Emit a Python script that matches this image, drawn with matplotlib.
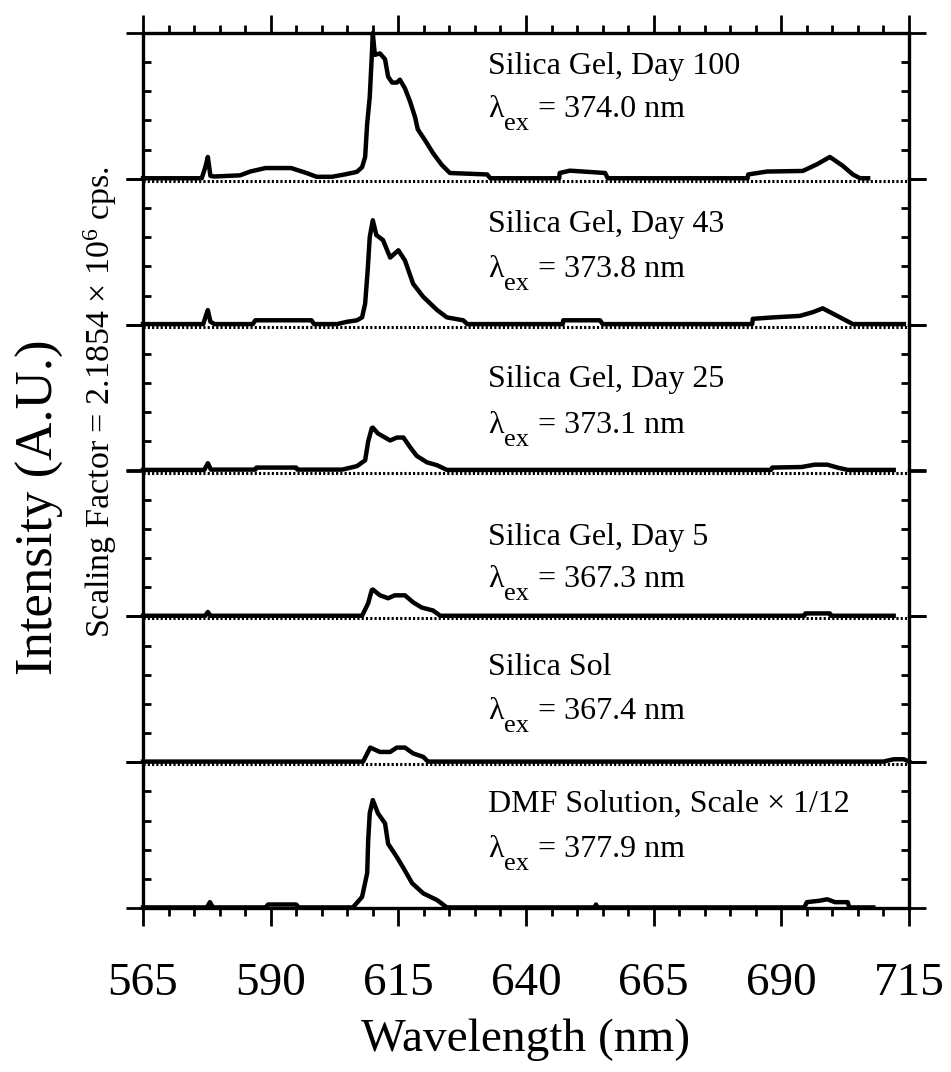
import matplotlib
matplotlib.use('Agg')
import matplotlib.pyplot as plt
from matplotlib.ticker import FixedLocator
from matplotlib.transforms import offset_copy

plt.rcParams['font.family'] = ['Liberation Serif', 'DejaVu Serif']
plt.rcParams['mathtext.fontset'] = 'custom'
plt.rcParams['mathtext.rm'] = 'Liberation Serif'
plt.rcParams['mathtext.it'] = 'Liberation Serif:italic'

# spectra (wavelength nm, intensity in panel units 0..5)
wl_d100 = [565, 576.5, 577.2, 577.7, 578.2, 579, 584, 586, 589, 594, 597, 599, 602, 604.5,
           606.9, 607.9, 608.5, 608.9, 609.4, 609.8, 610.0, 610.4, 611.4, 612.4, 613.0, 613.8,
           614.7, 615.3, 616.3, 617.3, 618.3, 618.8, 620.2, 621.8, 623.5, 625.1, 632.4, 633,
           646.5, 646.6, 648.6, 655.5, 656, 683.4, 683.5, 687.2, 694.2, 697, 699.5, 702, 704,
           705.4, 707]
i_d100 = [0.02, 0.02, 0.4, 0.75, 0.1, 0.08, 0.12, 0.25, 0.37, 0.37, 0.2, 0.07, 0.07, 0.15,
          0.24, 0.4, 0.75, 1.9, 2.8, 4.2, 5.0, 4.25, 4.3, 4.1, 3.5, 3.3,
          3.3, 3.4, 3.1, 2.65, 2.1, 1.7, 1.33, 0.88, 0.48, 0.2, 0.15, 0.02,
          0.02, 0.2, 0.28, 0.2, 0.02, 0.02, 0.15, 0.25, 0.27, 0.5, 0.75, 0.45, 0.15,
          0.02, 0.02]

wl_d43 = [565, 576.8, 577.3, 577.7, 578.2, 579, 586.5, 587, 598, 598.5, 603, 605, 606.9,
          607.9, 608.5, 609.0, 609.4, 610.0, 610.7, 612.0, 613.4, 615.0, 616.3, 617.9, 619.9,
          622.6, 624.5, 627.7, 628.5, 647.2, 647.3, 654.5, 655, 684.3, 684.4, 688.4, 693.6,
          696.2, 698.1, 701.5, 704, 714]
i_d43 = [0.02, 0.02, 0.3, 0.5, 0.1, 0.02, 0.02, 0.15, 0.15, 0.02, 0.02, 0.1, 0.15,
         0.25, 0.72, 1.87, 3.0, 3.58, 3.07, 2.9, 2.3, 2.55, 2.2, 1.4, 0.95,
         0.5, 0.25, 0.15, 0.02, 0.02, 0.15, 0.15, 0.02, 0.02, 0.2, 0.25, 0.3,
         0.43, 0.56, 0.25, 0.02, 0.02]

wl_d25 = [565, 577.0, 577.7, 578.3, 587, 587.2, 595, 595.2, 604, 606.9, 608.5, 609.1, 609.8,
          610.0, 611.0, 612.4, 613.4, 614.7, 616.0, 617.3, 618.6, 620.6, 622.6, 624.5, 688,
          688.2, 694, 696.5, 699, 701, 703, 712]
i_d25 = [0.02, 0.02, 0.25, 0.03, 0.03, 0.1, 0.1, 0.03, 0.03, 0.15, 0.35, 1.0, 1.45,
         1.47, 1.27, 1.13, 1.03, 1.13, 1.13, 0.8, 0.5, 0.28, 0.18, 0.02, 0.02,
         0.1, 0.12, 0.2, 0.2, 0.1, 0.02, 0.02]

wl_d5 = [565, 577.2, 577.7, 578.2, 607.9, 609.1, 609.8, 610.0, 611.4, 613.0, 614.3, 616.3,
         617.9, 619.6, 621.8, 623.2, 694.5, 694.7, 699.5, 699.7, 712]
i_d5 = [0.02, 0.02, 0.15, 0.02, 0.02, 0.45, 0.9, 0.92, 0.72, 0.62, 0.72, 0.72,
        0.48, 0.3, 0.2, 0.02, 0.02, 0.1, 0.1, 0.02, 0.02]

wl_sol = [565, 608.1, 609.5, 611.4, 613.4, 614.7, 616.3, 617.9, 619.9, 620.8, 710, 712, 714, 715]
i_sol = [0.02, 0.02, 0.5, 0.35, 0.35, 0.5, 0.5, 0.3, 0.18, 0.02, 0.02, 0.1, 0.1, 0.02]

wl_dmf = [565, 577.5, 578.1, 578.7, 589, 589.5, 595, 595.5, 606.1, 607.9, 608.9, 609.1,
          609.4, 610.0, 611.0, 612.4, 613.0, 614.7, 616.0, 617.7, 619.9, 622.6, 624.5, 653.4,
          653.7, 654, 694.5, 695, 697.5, 699, 700.5, 703, 703.3, 708]
i_dmf = [0.02, 0.02, 0.2, 0.02, 0.02, 0.12, 0.12, 0.02, 0.02, 0.38, 1.2, 2.33,
         3.25, 3.7, 3.25, 2.9, 2.2, 1.75, 1.37, 0.85, 0.5, 0.27, 0.02, 0.02,
         0.12, 0.02, 0.02, 0.2, 0.25, 0.3, 0.2, 0.2, 0.02, 0.02]

samples = ['Silica Gel, Day 100', 'Silica Gel, Day 43', 'Silica Gel, Day 25',
           'Silica Gel, Day 5', 'Silica Sol', 'DMF Solution, Scale \u00d7 1/12']
lambda_ex = ['374.0', '373.8', '373.1', '367.3', '367.4', '377.9']
x_ticks = [565, 590, 615, 640, 665, 690, 715]

spectra = [(wl_d100, i_d100), (wl_d43, i_d43), (wl_d25, i_d25),
           (wl_d5, i_d5), (wl_sol, i_sol), (wl_dmf, i_dmf)]
text_y = [(3.6, 2.12), (3.18, 1.63), (2.85, 1.3), (2.45, 1.0), (2.98, 1.47), (3.29, 1.75)]

fig, axes = plt.subplots(6, 1, sharex=True, figsize=(9.51, 10.72), dpi=100)
fig.subplots_adjust(left=143/951, right=909/951, top=1-33/1072, bottom=1-908/1072, hspace=0)

for i, ax in enumerate(axes):
    ax.patch.set_visible(False)
    wl, inten = spectra[i]
    if i < 5:
        # dotted zero line, sitting just under the trace
        ax.plot([0, 1], [0, 0], color='black', lw=2.2, ls=(0, (0.7, 0.7)), zorder=1,
                clip_on=False,
                transform=offset_copy(ax.get_yaxis_transform(), fig=fig, y=-2.0, units='dots'))
    ax.plot(wl, inten, color='black', lw=3.2, clip_on=False, zorder=3,
            solid_joinstyle='round')
    ax.set_xlim(565, 715)
    ax.set_ylim(0, 5)
    for s in ax.spines.values():
        s.set_linewidth(2.4)
    if i > 0:
        ax.spines['top'].set_visible(False)
    if i < 5:
        ax.spines['bottom'].set_visible(False)

    ax.yaxis.set_major_locator(FixedLocator([0, 5]))
    ax.yaxis.set_minor_locator(FixedLocator([1, 2, 3, 4]))
    ax.tick_params(axis='y', which='major', direction='out', length=12, width=2.0,
                   left=True, right=True, labelleft=False)
    ax.tick_params(axis='y', which='minor', direction='in', length=6, width=2.0,
                   left=True, right=True)

    ax.xaxis.set_major_locator(FixedLocator(x_ticks))
    ax.xaxis.set_minor_locator(FixedLocator(range(565, 716, 5)))
    ax.tick_params(axis='x', which='both', direction='out', width=2.0,
                   top=(i == 0), bottom=(i == 5), labelbottom=(i == 5), labeltop=False)
    ax.tick_params(axis='x', which='major', length=13, labelsize=34, pad=26)
    ax.tick_params(axis='x', which='minor', length=6)

    y1, y2 = text_y[i]
    ax.text(632.6, y1, samples[i], fontsize=23, va='baseline', ha='left')
    ax.text(632.6, y2, '\u03bb', fontsize=23, va='baseline', ha='left')
    ax.text(632.6, y2, 'ex', fontsize=19, va='baseline', ha='left',
            transform=offset_copy(ax.transData, fig=fig, x=16, y=-13, units='dots'))
    ax.text(632.6, y2, '= ' + lambda_ex[i] + ' nm', fontsize=23, va='baseline', ha='left',
            transform=offset_copy(ax.transData, fig=fig, x=50, y=0, units='dots'))

fig.text(526/951, 1-1040/1072, 'Wavelength (nm)', fontsize=34, ha='center', va='center')
fig.text(40/951, 1-507/1072, 'Intensity (A.U.)', fontsize=38, rotation=90,
         ha='center', va='center')
fig.text(100/951, 1-402/1072, 'Scaling Factor = 2.1854 \u00d7 10$^{6}$ cps.', fontsize=24.5,
         rotation=90, ha='center', va='center')

fig.savefig('out.png', dpi=100)
